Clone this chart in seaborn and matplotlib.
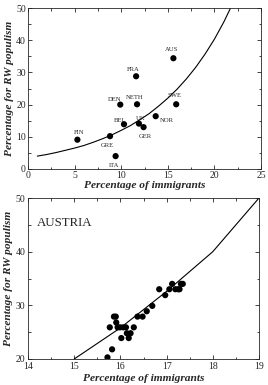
import numpy as np
import pandas as pd
import seaborn as sns
import matplotlib.pyplot as plt
from matplotlib.ticker import MultipleLocator

# top panel: countries
countries = ["FIN", "GRE", "ITA", "BEL", "DEN", "NETH", "FRA", "UK", "GER", "NOR", "AUS", "SWE"]
immigrants = [5.3, 8.8, 9.4, 10.3, 9.9, 11.7, 11.6, 11.9, 12.4, 13.7, 15.6, 15.9]
rw_vote = [9.1, 10.2, 4.0, 13.9, 20.0, 20.1, 28.8, 14.1, 13.0, 16.4, 34.4, 20.1]
# label offsets (points)
label_offsets = [(1, 5), (-2, -7), (-1, -7), (-3, 3), (-4, 4), (-2, 5), (-2, 5), (1, 4), (1, -7), (8, -3), (-1, 6), (-1, 6)]

# fitted curve
curve_x = [1, 2, 3, 4, 5, 6, 7, 8, 9, 10, 11, 12, 13, 14, 15, 16, 17, 18, 19, 20, 21, 21.7]
curve_y = [4.0, 4.5, 5.1, 5.8, 6.5, 7.3, 8.3, 9.4, 10.6, 12.0, 13.5, 15.3, 17.2, 19.5, 22.0, 24.8, 28.0, 31.6, 35.7, 40.3, 45.6, 49.8]

# bottom panel: Austria over time
aut_immigrants = [15.72, 15.82, 15.77, 15.86, 15.90, 15.91, 15.94, 15.99, 16.02, 16.06,
                  16.12, 16.14, 16.18, 16.22, 16.29, 16.37, 16.48, 16.57, 16.69, 16.84,
                  16.97, 17.06, 17.12, 17.19, 17.25, 17.28, 17.31, 17.35]
aut_rw_vote = [20.3, 21.8, 25.9, 27.9, 27.9, 26.8, 25.9, 25.9, 23.9, 25.9,
               25.9, 24.8, 23.9, 24.8, 25.9, 27.9, 27.9, 28.9, 29.9, 33.0,
               31.9, 33.0, 34.0, 33.0, 33.0, 33.0, 34.0, 34.0]
aut_line_x = [15, 16, 17, 18, 19]
aut_line_y = [20, 25.8, 32.6, 40, 50]

sns.set_style("ticks")
plt.rcParams["font.family"] = ["Liberation Serif", "DejaVu Serif"]

W, H = 268, 385
fig = plt.figure(figsize=(W / 100, H / 100), dpi=100)
ax1 = fig.add_axes([28 / W, 1 - 169 / H, 233 / W, 161 / H])
ax2 = fig.add_axes([28 / W, 1 - 359 / H, 231 / W, 161 / H])

df = pd.DataFrame({"x": immigrants, "y": rw_vote, "c": countries})
sns.lineplot(x=curve_x, y=curve_y, ax=ax1, color="black", lw=0.8, sort=False)
sns.scatterplot(data=df, x="x", y="y", ax=ax1, color="black", s=20, edgecolor="none")
for name, x, y, off in zip(countries, immigrants, rw_vote, label_offsets):
    ax1.annotate(name, (x, y), xytext=off, textcoords="offset points",
                 ha="center", va="center", fontsize=4.8)
ax1.set_xlim(0, 25)
ax1.set_ylim(0, 50)
ax1.xaxis.set_major_locator(MultipleLocator(5))
ax1.xaxis.set_minor_locator(MultipleLocator(2.5))
ax1.yaxis.set_major_locator(MultipleLocator(10))
ax1.yaxis.set_minor_locator(MultipleLocator(5))

sns.lineplot(x=aut_line_x, y=aut_line_y, ax=ax2, color="black", lw=0.8, sort=False)
sns.scatterplot(x=aut_immigrants, y=aut_rw_vote, ax=ax2, color="black", s=20, edgecolor="none")
ax2.text(14.2, 45.3, "AUSTRIA", fontsize=9.3, va="center", ha="left")
ax2.set_xlim(14, 19)
ax2.set_ylim(20, 50)
ax2.xaxis.set_major_locator(MultipleLocator(1))
ax2.xaxis.set_minor_locator(MultipleLocator(0.5))
ax2.yaxis.set_major_locator(MultipleLocator(10))
ax2.yaxis.set_minor_locator(MultipleLocator(5))

for ax in (ax1, ax2):
    ax.tick_params(which="both", direction="in", top=True, right=True, labelsize=7, pad=1.5, width=0.6)
    ax.tick_params(which="major", length=3)
    ax.tick_params(which="minor", length=1.8)
    for s in ax.spines.values():
        s.set_linewidth(0.6)
    ax.set_ylabel("Percentage for RW populism", fontsize=8.2, fontweight="bold", style="italic", labelpad=1.5)

ax2.tick_params(axis="x", which="both", pad=2.5)
ax2.tick_params(axis="y", which="both", pad=2)
ax1.set_xlabel("Percentage of immigrants", fontsize=8.2, fontweight="bold", style="italic", labelpad=0.5)
ax2.set_xlabel("Percentage of immigrants", fontsize=8.2, fontweight="bold", style="italic", labelpad=1.5)

fig.savefig("out.png", dpi=100)
